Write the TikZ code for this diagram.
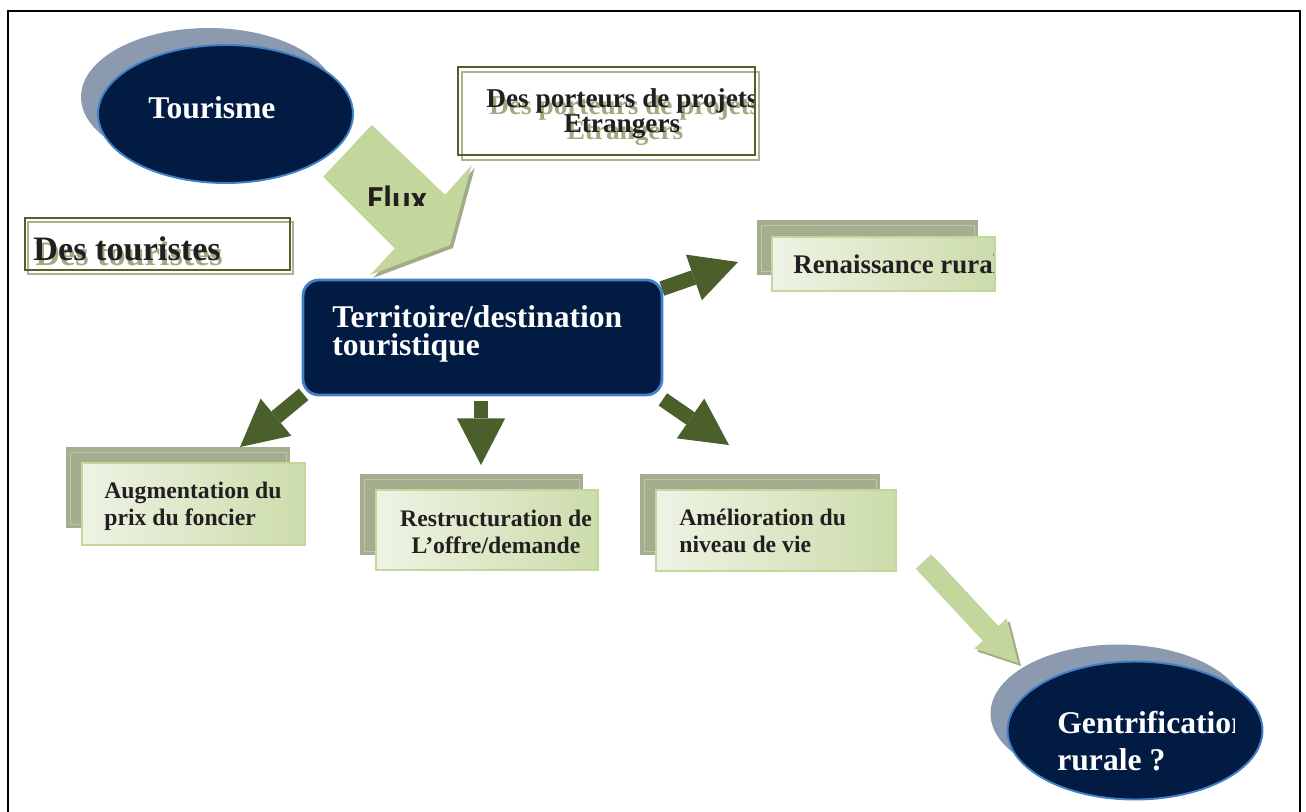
\documentclass[tikz,border=0pt]{standalone}
\usepackage{fontspec}
\setmainfont{Liberation Serif}
\newfontfamily\fluxfont{Carlito}
\usetikzlibrary{calc, arrows.meta, positioning, shapes.geometric}
\definecolor{navyfill}{HTML}{021B42}
\definecolor{ovalline}{HTML}{3F80C6}
\definecolor{ovalshade}{HTML}{8C9AAF}
\definecolor{olivedark}{HTML}{4B5F2A}
\definecolor{boxline}{HTML}{4F6228}
\definecolor{boxshade}{HTML}{A9B58D}
\definecolor{shadowtext}{HTML}{9EAA80}
\definecolor{backfill}{HTML}{A5AD8F}
\definecolor{backline}{HTML}{BEC5AA}
\definecolor{frontlight}{HTML}{EEF3E4}
\definecolor{frontgreen}{HTML}{CCDCAB}
\definecolor{frontline}{HTML}{C3D69B}
\definecolor{lightgreen}{HTML}{C3D69B}
\definecolor{lightshade}{HTML}{A1AB86}
\definecolor{inktext}{HTML}{231F20}

\begin{document}
\begin{tikzpicture}[
    x=0.02cm, y=-0.02cm,
    oval/.style={ellipse, fill=navyfill, draw=ovalline, line width=1.1pt, minimum width=5.1cm, minimum height=2.76cm, inner sep=0pt},
    ovalshadow/.style={ellipse, fill=ovalshade, minimum width=5.1cm, minimum height=2.76cm, inner sep=0pt},
    whitetxt/.style={text=white, font=\bfseries\fontsize{18}{15.5}\selectfont, inner sep=0pt, align=left},
    inktxt/.style={text=inktext, font=\bfseries\fontsize{13.5}{15.3}\selectfont, inner sep=0pt},
    darkarrow/.style={draw=olivedark, line width=8.5pt, -{Triangle[length=26.6pt, width=27.5pt, line width=0pt]}},
    lightarrow/.style={draw=lightgreen, line width=11.9pt, -{Triangle[length=23pt, width=25.2pt, line width=0pt]}},
    framebox/.style={fill=white, draw=boxline, line width=1.3pt},
    backbox/.style={fill=backfill},
    frontbox/.style={left color=frontlight, right color=frontgreen, draw=frontline, line width=1.1pt}
]
    \clip (0,0) rectangle (1306,812);
    \fill[white] (0,0) rectangle (1306,812);

    % Page frame
    \draw[line width=1.3pt] (8,11) rectangle (1300,900);

    % Tourisme oval
    \node[ovalshadow] (tourshadow) at (208.5,97) {};
    \node[oval] (tour) at (225.5,114) {};
    \node[whitetxt, anchor=base west] (tourtxt) at (148,118) {Tourisme};

    % Des porteurs de projets box
    \fill[white] (458,67) rectangle (755,155);
    \draw[boxshade, line width=1.1pt] (462,72) rectangle (759,160);
    \draw[boxline, line width=1.3pt] (458,67) rectangle (755,155);
    \begin{scope}
        \clip (459,68) rectangle (753,154);
        \node[text=shadowtext, font=\bfseries\fontsize{15.5}{14.2}\selectfont, inner sep=0pt, align=center, anchor=base] (portshadow) at (625,139) {Des porteurs de projets\\Etrangers};
        \node[text=inktext, font=\bfseries\fontsize{15.5}{14.2}\selectfont, inner sep=0pt, align=center, anchor=base] (porttxt) at (622,132) {Des porteurs de projets\\Etrangers};
    \end{scope}

    % Des touristes box
    \fill[white] (25,218) rectangle (290,270);
    \draw[boxshade, line width=1.1pt] (28,222) rectangle (293,274);
    \draw[boxline, line width=1.3pt] (25,218) rectangle (290,270);
    \node[text=shadowtext, font=\bfseries\fontsize{19.5}{20}\selectfont, inner sep=0pt, anchor=base west] (tourishadow) at (35,265) {Des touristes};
    \node[text=inktext, font=\bfseries\fontsize{19.5}{20}\selectfont, inner sep=0pt, anchor=base west] (touristxt) at (33,260) {Des touristes};

    % Flux arrow
    \fill[lightshade, shift={(3,3)}] (371.7,125) -- (445,195) -- (471.7,165) -- (450,245) -- (370,275) -- (395,248.3) -- (323.3,176.7) -- cycle;
    \fill[lightgreen] (371.7,125) -- (445,195) -- (471.7,165) -- (450,245) -- (370,275) -- (395,248.3) -- (323.3,176.7) -- cycle;
    \begin{scope}
        \clip (340,150) rectangle (460,205);
        \node[text=inktext, font=\fluxfont\bfseries\fontsize{20}{20}\selectfont, inner sep=0pt, anchor=base west] (fluxtxt) at (367,210) {Flux};
    \end{scope}

    % Territoire / destination
    \node[draw=ovalline, fill=navyfill, line width=1.6pt, rounded corners=9pt, minimum width=7.18cm, minimum height=2.3cm] (terr) at (482.5,337.5) {};
    \node[whitetxt, anchor=base west] (terrtxt) at (332,355) {Territoire/destination\\touristique};

    % Renaissance rurale
    \fill[backbox] (757,220) rectangle (978,275);
    \draw[backline, line width=0.5pt] (761,225) rectangle (974,271);
    \shade[frontbox] (772,237) rectangle (995,291);
    \begin{scope}
        \clip (773,238) rectangle (993,290);
        \node[inktxt, font=\bfseries\fontsize{15.3}{15.3}\selectfont, anchor=base west] (rentxt) at (793,273) {Renaissance rurale};
    \end{scope}

    % Augmentation du prix du foncier
    \fill[backbox] (66,447) rectangle (290,528);
    \draw[backline, line width=0.5pt] (70,452) rectangle (286,524);
    \shade[frontbox] (82,463) rectangle (305,545);
    \node[inktxt, align=left, anchor=base west] (augtxt) at (104,525) {Augmentation du\\prix du foncier};

    % Restructuration de l'offre/demande
    \fill[backbox] (360,474) rectangle (583,555);
    \draw[backline, line width=0.5pt] (364,479) rectangle (579,551);
    \shade[frontbox] (376,490) rectangle (598,570);
    \node[inktxt, align=center, anchor=base] (restxt) at (496,553) {Restructuration de\\L’offre/demande};

    % Amelioration du niveau de vie
    \fill[backbox] (640,474) rectangle (880,555);
    \draw[backline, line width=0.5pt] (644,479) rectangle (876,551);
    \shade[frontbox] (656,490) rectangle (896,571);
    \node[inktxt, align=left, anchor=base west] (ametxt) at (679,552) {Amélioration du\\niveau de vie};

    % Gentrification rurale oval
    \node[ovalshadow] (gentshadow) at (1118,713.5) {};
    \node[oval] (gent) at (1135,730.5) {};
    \begin{scope}
        \clip (1000,650) rectangle (1234,800);
        \node[whitetxt, font=\bfseries\fontsize{18}{21}\selectfont, anchor=base west] (genttxt) at (1057,770) {Gentrification\\rurale ?};
    \end{scope}

    % Arrows out of the territory
    \coordinate (renTip) at (738,262);
    \coordinate (augTip) at (240,447);
    \coordinate (resTip) at (481,465);
    \coordinate (ameTip) at (729,445);
    \draw[darkarrow] ($(terr.north east)+(-1.5,10)$) -- (renTip);
    \draw[darkarrow] ($(terr.south west)+(2,-2)$) -- (augTip);
    \draw[darkarrow] ($(terr.south)+(-1.5,5)$) -- (resTip);
    \draw[darkarrow] ($(terr.south east)+(-0.5,3)$) -- (ameTip);

    % Arrow towards gentrification
    \coordinate (gentStart) at (923.5,561.5);
    \coordinate (gentTip) at (1018,663);
    \draw[lightarrow, draw=lightshade] ([shift={(3,3)}]gentStart) -- ([shift={(3,3)}]gentTip);
    \draw[lightarrow] (gentStart) -- (gentTip);

\end{tikzpicture}
\end{document}
